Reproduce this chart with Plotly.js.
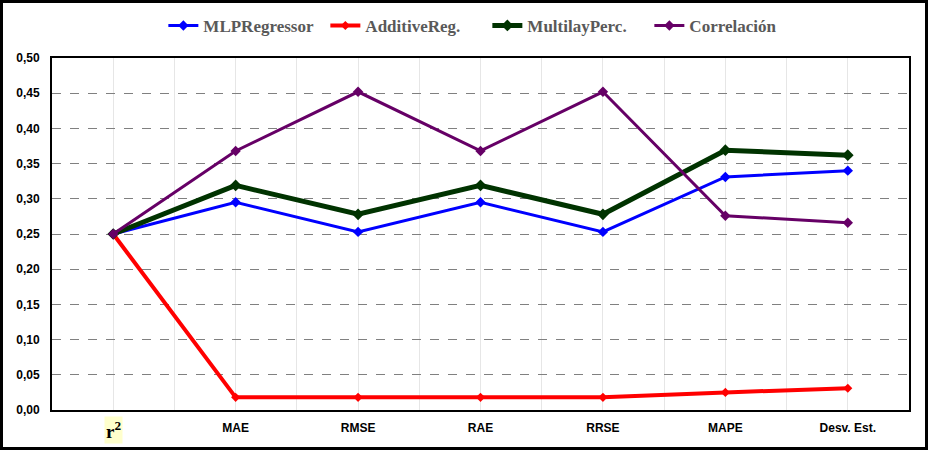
<!DOCTYPE html>
<html>
<head>
<meta charset="utf-8">
<script src="https://cdn.plot.ly/plotly-3.0.1.min.js"></script>
<style>
  html, body { margin: 0; padding: 0; background: #fff; }
  #wrap { position: relative; width: 929px; height: 454px; }
  #chart { width: 929px; height: 454px; }
  #frame { position: absolute; left: 0; top: 0; width: 922px; height: 444px; border: 3px solid #000; pointer-events: none; }
</style>
</head>
<body>
<div id="wrap">
  <div id="chart"></div>
  <div id="frame"></div>
</div>
<script>
const categories = ["r²", "MAE", "RMSE", "RAE", "RRSE", "MAPE", "Desv. Est."];
const tickLabels = ["", "MAE", "RMSE", "RAE", "RRSE", "MAPE", "Desv. Est."];
const mlpRegressor = [0.250, 0.295, 0.253, 0.295, 0.253, 0.331, 0.340];
const additiveReg = [0.250, 0.018, 0.018, 0.018, 0.018, 0.025, 0.031];
const multilayPerc = [0.250, 0.319, 0.278, 0.319, 0.278, 0.369, 0.362];
const correlacion = [0.250, 0.368, 0.452, 0.368, 0.452, 0.276, 0.266];
const yTicks = [0, 0.05, 0.10, 0.15, 0.20, 0.25, 0.30, 0.35, 0.40, 0.45, 0.50];

const xIdx = categories.map((c, i) => i);

function series(name, y, color, width, msize) {
  return {
    type: "scatter", mode: "lines+markers", name: name,
    x: xIdx, y: y, text: categories,
    line: { color: color, width: width },
    marker: { symbol: "diamond", size: msize, color: color }
  };
}

const traces = [
  series("MLPRegressor", mlpRegressor, "#0000ff", 3, 8),
  series("AdditiveReg.", additiveReg, "#ff0000", 4, 7),
  series("MultilayPerc.", multilayPerc, "#003300", 5, 9),
  series("Correlación", correlacion, "#660066", 3, 8)
];

const layout = {
  width: 929, height: 454,
  margin: { l: 52, r: 20, t: 58, b: 44 },
  paper_bgcolor: "#ffffff", plot_bgcolor: "#ffffff",
  separators: ",.",
  showlegend: true,
  legend: {
    orientation: "h", x: 0.508, xanchor: "center", y: 0.943, yanchor: "middle",
    yref: "container",
    font: { family: "Liberation Serif", size: 17, color: "#595959", weight: "bold" },
    entrywidth: 117, entrywidthmode: "pixels", traceorder: "normal"
  },
  xaxis: {
    type: "linear", range: [-0.5, 6.5],
    tickvals: xIdx, ticktext: tickLabels,
    showgrid: true, gridcolor: "#e6e6e6", gridwidth: 1,
    minor: { dtick: 0.5, tick0: 0.5, showgrid: true, gridcolor: "#e6e6e6", gridwidth: 1 },
    showline: true, linecolor: "#000", linewidth: 2, mirror: true,
    ticks: "", zeroline: false,
    tickfont: { family: "Liberation Sans", size: 12, color: "#000", weight: "bold" },
    ticklabelstandoff: 6
  },
  yaxis: {
    range: [0, 0.5], tickvals: yTicks, tickformat: ".2f",
    showgrid: true, gridcolor: "#808080", gridwidth: 1, griddash: "dash",
    showline: true, linecolor: "#000", linewidth: 2, mirror: true,
    ticks: "", zeroline: false,
    tickfont: { family: "Liberation Sans", size: 12, color: "#000", weight: "bold" },
    ticklabelstandoff: 8
  },
  annotations: [{
    x: 0, xref: "x", y: 0, yref: "paper", yanchor: "middle", xanchor: "center", yshift: -20,
    text: "r<sup>2</sup>", showarrow: false,
    font: { family: "Liberation Serif", size: 19, color: "#000", weight: "bold" },
    bgcolor: "#ffffcc", borderpad: 1
  }]
};

Plotly.newPlot("chart", traces, layout, { displayModeBar: false, staticPlot: true });
</script>
</body>
</html>
